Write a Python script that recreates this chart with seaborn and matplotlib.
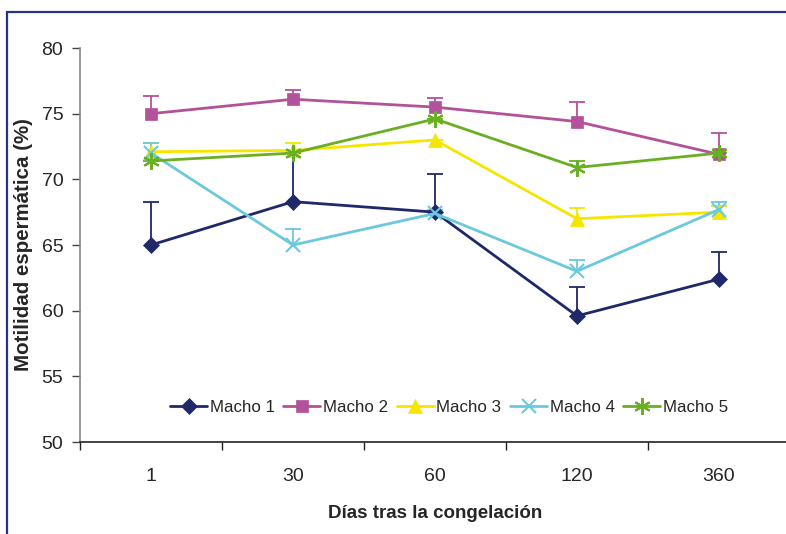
import numpy as np
import pandas as pd
import matplotlib
matplotlib.use("Agg")
import matplotlib.pyplot as plt
from matplotlib.patches import Rectangle
import seaborn as sns

# Days after freezing (categorical x axis)
dias = ["1", "30", "60", "120", "360"]
machos = ["Macho 1", "Macho 2", "Macho 3", "Macho 4", "Macho 5"]

# Mean sperm motility (%) per male and day
macho1 = [65.0, 68.3, 67.5, 59.6, 62.4]
macho2 = [75.0, 76.1, 75.5, 74.4, 71.9]
macho3 = [72.1, 72.2, 73.0, 67.0, 67.5]
macho4 = [72.0, 65.0, 67.4, 63.0, 67.7]
macho5 = [71.4, 72.0, 74.6, 70.9, 72.0]

# Upper error (SE) per male and day
err1 = [3.25, 3.7, 2.9, 2.2, 2.1]
err2 = [1.35, 0.7, 0.7, 1.5, 1.6]
err3 = [0.7, 0.6, 0.0, 0.8, 0.5]
err4 = [0.8, 1.2, 0.3, 0.85, 0.6]
err5 = [0.0, 0.0, 0.0, 0.5, 0.0]

valores = [macho1, macho2, macho3, macho4, macho5]
errores = [err1, err2, err3, err4, err5]

colores = ["#1F2868", "#B3529A", "#F5E600", "#6CC8DC", "#6AAF23"]
marcadores = ["D", "s", "^", "x", (6, 2, 0)]
tamanos = [8, 9, 10, 10, 12]

df = pd.DataFrame({
    "pos": np.tile(np.arange(len(dias)), len(machos)),
    "dia": dias * len(machos),
    "macho": np.repeat(machos, len(dias)),
    "motilidad": np.concatenate(valores),
    "err": np.concatenate(errores),
})

sns.set_style("white")
plt.rcParams["font.family"] = ["Liberation Sans", "DejaVu Sans"]

fig = plt.figure(figsize=(7.86, 5.34), dpi=100)
W, H = 786, 534
ax = fig.add_axes([80 / W, 1 - 442 / H, 710 / W, (442 - 48) / H])

# upper-only error bars with caps
for m, c in zip(machos, colores):
    sub = df[df["macho"] == m]
    e = sub["err"].to_numpy()
    _, caps, bars = ax.errorbar(sub["pos"], sub["motilidad"],
                                yerr=[np.zeros_like(e), e], fmt="none",
                                ecolor=c, elinewidth=1.3, capsize=6,
                                capthick=1.3, zorder=2)
    if caps:
        caps[0].set_visible(False)

for i, (m, c) in enumerate(zip(machos, colores)):
    sub = df[df["macho"] == m]
    sns.lineplot(data=sub, x="pos", y="motilidad", ax=ax, color=c,
                 marker=marcadores[i], markersize=tamanos[i],
                 markeredgecolor=c, markeredgewidth=1.5 if i >= 3 else 0.5,
                 linewidth=2.0, label=m, zorder=3 + i, sort=False)

ax.set_xlim(-0.5, len(dias) - 0.5)
ax.set_ylim(50, 80)
ax.set_yticks(range(50, 81, 5))
ax.tick_params(axis="y", labelsize=14, length=6, width=1, color="#444444",
               direction="out", left=True, pad=6)

# category boundary ticks (major) and centred labels (minor)
ax.set_xticks(np.arange(-0.5, len(dias)))
ax.set_xticklabels([])
ax.set_xticks(np.arange(len(dias)), minor=True)
ax.set_xticklabels(dias, minor=True)
ax.tick_params(axis="x", which="major", length=6, width=1, color="#222222",
               direction="out", bottom=True)
ax.tick_params(axis="x", which="minor", length=0, labelsize=14, pad=19)

for s in ["top", "right"]:
    ax.spines[s].set_visible(False)
ax.spines["left"].set_color("#888888")
ax.spines["left"].set_linewidth(1.2)
ax.spines["bottom"].set_color("#222222")
ax.spines["bottom"].set_linewidth(1.2)

ax.set_xlabel("Días tras la congelación", fontsize=13.5, fontweight="bold",
              labelpad=14)
ax.set_ylabel("Motilidad espermática (%)", fontsize=14.8, fontweight="bold",
              labelpad=6)

leg = ax.legend(loc="center", bbox_to_anchor=((449 - 80) / 710, (442 - 407) / 394),
                ncol=5, frameon=False, fontsize=12.2, handlelength=2.2,
                columnspacing=0.5, handletextpad=0.15, borderaxespad=0)

# outer frame
fig.patches.append(Rectangle((7 / W, -0.05), 1.1, 1 - 12 / H + 0.05,
                             transform=fig.transFigure, fill=False,
                             edgecolor="#22348C", linewidth=1.6))

fig.savefig("out.png", dpi=100)
